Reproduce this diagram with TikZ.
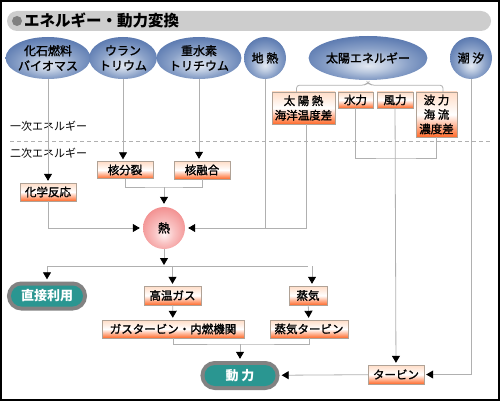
\documentclass[tikz,border=0pt]{standalone}
\usepackage{fontspec}
\setmainfont{Noto Sans CJK JP}
\newfontfamily\medfont{Noto Sans CJK JP}[RawFeature={embolden=1.5}]
\usetikzlibrary{arrows.meta,shapes.geometric,positioning}
\definecolor{linegray}{HTML}{B0B0B0}
\definecolor{headgray}{HTML}{CDCDCD}
\definecolor{boxedge}{HTML}{B0A296}
\definecolor{boxtop}{HTML}{FFDCC6}
\definecolor{boxbot}{HTML}{FF6A2A}
\definecolor{pillteal}{HTML}{2A9691}
\definecolor{pillrim}{HTML}{828282}
\definecolor{srcA}{HTML}{E2E8F2}
\definecolor{srcB}{HTML}{BCCAE0}
\definecolor{srcC}{HTML}{8AA1C8}
\definecolor{srcD}{HTML}{6683B6}
\definecolor{srcE}{HTML}{4464A0}
\definecolor{srcF}{HTML}{34548C}
\definecolor{heatA}{HTML}{FFF2F2}
\definecolor{heatB}{HTML}{F9C2C2}
\definecolor{heatC}{HTML}{F28C8C}
\definecolor{heatD}{HTML}{E85E5E}
\pgfdeclareradialshading{srcshade}{\pgfpoint{0bp}{-9bp}}{color(0bp)=(srcA);
	color(8bp)=(srcB);
	color(17bp)=(srcC);
	color(26bp)=(srcD);
	color(36bp)=(srcE);
	color(50bp)=(srcF)}
\pgfdeclareradialshading{heatshade}{\pgfpoint{0bp}{-8bp}}{color(0bp)=(heatA);
	color(12bp)=(heatB);
	color(30bp)=(heatC);
	color(48bp)=(heatD)}

\begin{document}
\begin{tikzpicture}[x=1pt,y=-1pt,
		src/.style={ellipse,inner sep=0pt,shade,shading=srcshade,align=center,font=\medfont\fontsize{12}{15}\selectfont},
		ebox/.style={rectangle,draw=boxedge,inner sep=0pt,top color=boxtop,bottom color=boxbot,middle color=white,align=center,font=\medfont\fontsize{11.5}{14.5}\selectfont},
		pill/.style={rectangle,rounded corners=10.5pt,fill=pillteal,minimum height=21pt,inner sep=0pt,text=white,font=\fontsize{13}{15}\selectfont\bfseries,preaction={draw=pillrim,line width=8pt}},
		line/.style={draw=linegray,line width=0.8pt},
		arr/.style={line,-{Triangle[width=8pt,length=7pt,black]},shorten >=2pt},
		lbl/.style={anchor=west,inner sep=0pt,font=\fontsize{11}{13}\selectfont}]
		\useasboundingbox (0,0) rectangle (500,401);
		\draw[line width=2pt] (1,1) rectangle (499,400);
		\fill[headgray,rounded corners=10pt] (7,11) rectangle (491,31);
		\fill[gray] (17,21) circle (5);
		\node[anchor=west,inner sep=0pt,font=\fontsize{15.5}{17}\selectfont\bfseries] (title) at (24,21) {エネルギー・動力変換};

		\node[src,minimum width=72pt,minimum height=42pt] (fossil) at (48,58) {化石燃料\\バイオマス};
		\node[src,minimum width=61pt,minimum height=42pt] (uran) at (123,58) {ウラン\\トリウム};
		\node[src,minimum width=74pt,minimum height=42pt] (deut) at (199,58) {重水素\\トリチウム};
		\node[src,minimum width=42pt,minimum height=42pt] (geo) at (265,58) {地 熱};
		\node[src,minimum width=90pt,minimum height=44pt] (solar) at (368,58) {太陽エネルギー};
		\node[src,minimum width=42pt,minimum height=42pt] (tide) at (471,58) {潮 汐};

		\node[ebox,minimum width=63pt,minimum height=32pt] (solheat) at (303.5,108) {太 陽 熱\\海洋温度差};
		\node[ebox,minimum width=35pt,minimum height=16pt] (hydro) at (355.5,100) {水力};
		\node[ebox,minimum width=36pt,minimum height=16pt] (wind) at (395,100) {風力};
		\node[ebox,minimum width=41pt,minimum height=45pt] (wave) at (436.5,114.5) {波 力\\海 流\\濃度差};

		\node[lbl] (prim) at (10,126) {一次エネルギー};
		\draw[linegray,dash pattern=on 4pt off 3pt,line width=0.8pt] (10,141) -- (490,141);
		\node[lbl] (sec) at (10,153) {二次エネルギー};

		\node[ebox,minimum width=56pt,minimum height=17pt] (fission) at (125,170) {核分裂};
		\node[ebox,minimum width=56pt,minimum height=18pt] (fusion) at (202,170) {核融合};
		\node[ebox,minimum width=56pt,minimum height=18pt] (chem) at (48,192) {化学反応};
		\node[circle,minimum size=42pt,inner sep=0pt,shade,shading=heatshade,font=\medfont\fontsize{12}{14}\selectfont] (heat) at (164,228) {熱};

		\node[pill,minimum width=72pt] (direct) at (47,296) {直接利用};
		\node[ebox,minimum width=57pt,minimum height=19pt] (gas) at (172.5,295.5) {高温ガス};
		\node[ebox,minimum width=38pt,minimum height=19pt] (steam) at (308,295.5) {蒸気};
		\node[ebox,minimum width=142pt,minimum height=18pt] (gasturb) at (173,329) {ガスタービン・内燃機関};
		\node[ebox,minimum width=78pt,minimum height=18pt] (stturb) at (309,329) {蒸気タービン};
		\node[pill,minimum width=71pt] (power) at (240,375.5) {動 力};
		\node[ebox,minimum width=56pt,minimum height=19pt] (turb) at (396,374.5) {タービン};

		\coordinate (bt) at ([yshift=-2pt]solar.south);
		\draw[line,rounded corners=3pt] ([xshift=-7pt]solheat.north) |- ([shift={(-3pt,-3pt)}]bt) -- (bt) -- ([shift={(3pt,-3pt)}]bt) -| ([xshift=6.5pt]wave.north);

		\draw[arr] (fossil) -- (chem);
		\draw[arr] (uran.south) -- (uran.south |- fission.north);
		\draw[arr] (deut.south) -- (deut.south |- fusion.north);
		\coordinate (nj) at (164,187);
		\draw[line] (fission.south) |- (nj) -| (fusion.south);
		\draw[arr,shorten >=3pt] (nj) -- (heat);
		\draw[arr,shorten >=3pt] (chem.south) |- (heat.west);
		\draw[line] (geo) -- (geo |- heat);
		\draw[arr,shorten >=3pt] ([xshift=2.5pt]solheat.south) |- (heat.east);

		\coordinate (wj) at (396,158);
		\draw[line] (hydro.south) |- (wj) -| (wave.south);
		\draw[arr] (wind) -- (turb);
		\draw[arr] (tide) |- (turb.east);
		\draw[arr,shorten >=6pt] (turb) -- (power);

		\coordinate (split) at (164,266);
		\draw[arr,shorten >=1pt] (heat) -- (split);
		\draw[line] (split -| direct) -- (split -| steam.north);
		\draw[arr,shorten >=6pt] (split -| direct) -- (direct);
		\draw[arr] (split -| gas) -- (gas);
		\draw[arr] ([xshift=4pt]split -| steam) -- ([xshift=4pt]steam.north);
		\draw[arr] (gas) -- (gasturb);
		\draw[arr] (steam) -- (stturb);
		\coordinate (pj) at (240,344);
		\draw[line] (gasturb.south) |- (pj) -| (stturb.south);
		\draw[arr,shorten >=6pt] (pj) -- (power);
\end{tikzpicture}
\end{document}
